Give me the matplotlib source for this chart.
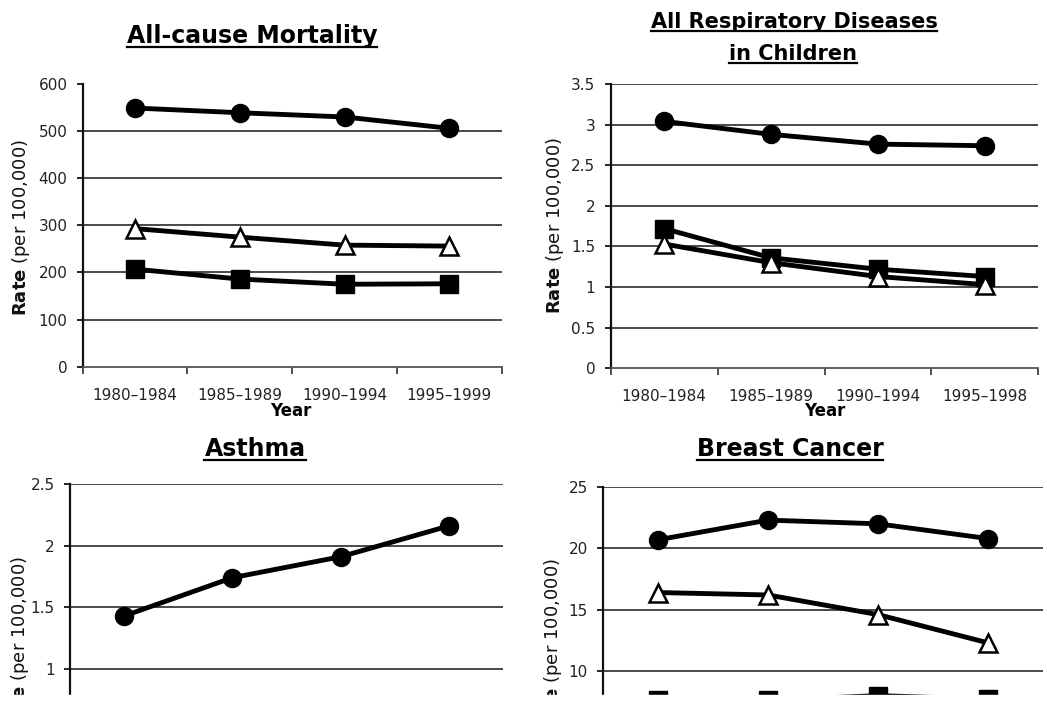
import matplotlib
matplotlib.use('Agg')
import matplotlib.pyplot as plt
import numpy as np
from matplotlib.lines import Line2D
from matplotlib.patches import Rectangle

# periods on the x axis
periods = ['1980–1984', '1985–1989', '1990–1994', '1995–1999']
periods_resp = ['1980–1984', '1985–1989', '1990–1994', '1995–1998']

# All-cause mortality
mort_circle = [549, 539, 530, 506]
mort_square = [207, 186, 175, 176]
mort_triangle = [293, 275, 258, 256]

# All respiratory diseases in children
resp_circle = [3.04, 2.88, 2.76, 2.74]
resp_square = [1.72, 1.36, 1.22, 1.13]
resp_triangle = [1.53, 1.30, 1.13, 1.03]

# Asthma
asthma_circle = [1.43, 1.74, 1.91, 2.16]

# Breast cancer
bc_circle = [20.7, 22.3, 22.0, 20.8]
bc_square = [7.6, 7.6, 8.0, 7.7]
bc_triangle = [16.4, 16.2, 14.6, 12.3]

W, H = 1047, 708
fig = plt.figure(figsize=(W / 100, H / 100), dpi=100)


def px(x, y):
    return x / W, 1 - y / H


def axes_px(left, top, right, bottom):
    return fig.add_axes([left / W, 1 - bottom / H, (right - left) / W, (bottom - top) / H])


def style(ax, ymax, ystep, labels, top_grid=True, show_xlabels=True, ylabel_min=0):
    ax.set_xlim(0, len(labels))
    ax.set_ylim(0, ymax)
    yt = np.arange(0, ymax + ystep / 2, ystep)
    ax.set_yticks(yt)
    # the lower panels are cut off, so their low tick values are not shown
    ax.set_yticklabels([f'{v:g}' if v >= ylabel_min else '' for v in yt])
    for v in yt[1:]:
        if v >= ymax - 1e-9 and not top_grid:
            continue
        ax.axhline(v, color='#3a3a3a', lw=1.3, zorder=1)
    ax.spines['top'].set_visible(False)
    ax.spines['right'].set_visible(False)
    ax.spines['left'].set_color('#111111')
    ax.spines['left'].set_linewidth(1.6)
    ax.spines['bottom'].set_color('#555555')
    ax.spines['bottom'].set_linewidth(1.3)
    ax.set_xticks(range(len(labels) + 1))
    ax.set_xticklabels([])
    ax.tick_params(axis='x', which='major', length=5, width=1.2, color='#333333')
    ax.set_xticks(np.arange(len(labels)) + 0.5, minor=True)
    ax.set_xticklabels(labels if show_xlabels else [''] * len(labels), minor=True)
    ax.tick_params(axis='x', which='minor', length=0, pad=15, labelsize=11, labelcolor='#222222')
    ax.tick_params(axis='y', length=4, width=1.2, pad=7, labelsize=11, labelcolor='#222222')
    ax.set_facecolor('none')


def series(ax, vals, kind):
    x = np.arange(len(vals)) + 0.5
    if kind == 'circle':
        ax.plot(x, vals, color='black', lw=3.5, marker='o', ms=13, zorder=3)
    elif kind == 'square':
        ax.plot(x, vals, color='black', lw=3.5, marker='s', ms=13, zorder=4)
    else:
        ax.plot(x, vals, color='black', lw=3.5, marker='^', ms=13, mfc='white',
                mec='black', mew=1.8, zorder=5)


ax1 = axes_px(82.7, 84, 501.7, 366.7)
ax2 = axes_px(610.7, 84, 1038.3, 368.3)
ax3 = axes_px(70, 484, 503, 484 + 2.5 * 123.3)
ax4 = axes_px(603, 487, 1043, 487 + 25 * 12.27)

style(ax1, 600, 100, periods, top_grid=False)
series(ax1, mort_circle, 'circle')
series(ax1, mort_square, 'square')
series(ax1, mort_triangle, 'triangle')

style(ax2, 3.5, 0.5, periods_resp)
series(ax2, resp_circle, 'circle')
series(ax2, resp_square, 'square')
series(ax2, resp_triangle, 'triangle')

style(ax3, 2.5, 0.5, periods, show_xlabels=False, ylabel_min=1)
series(ax3, asthma_circle, 'circle')

style(ax4, 25, 5, periods, show_xlabels=False, ylabel_min=10)
series(ax4, bc_circle, 'circle')
series(ax4, bc_square, 'square')
series(ax4, bc_triangle, 'triangle')

# titles (underlined by hand below)
titles = [
    fig.text(*px(252, 43), 'All-cause Mortality', fontsize=17),
    fig.text(*px(794, 28), 'All Respiratory Diseases', fontsize=15),
    fig.text(*px(793, 60), 'in Children', fontsize=15),
    fig.text(*px(255, 456), 'Asthma', fontsize=17),
    fig.text(*px(790, 456), 'Breast Cancer', fontsize=17),
]
for t in titles:
    t.set_ha('center')
    t.set_va('baseline')
    t.set_fontweight('bold')

ylab = r'$\mathbf{Rate}$ (per 100,000)'
for x, y in [(21, 227), (555, 225), (20, 644), (553, 646)]:
    fig.text(*px(x, y), ylab, rotation=90, ha='center', va='center', fontsize=13, color='#111111')

for x in [291, 825]:
    fig.text(*px(x, 411), 'Year', ha='center', va='center', fontsize=12, fontweight='bold')

fig.canvas.draw()
inv = fig.transFigure.inverted()
for t in titles:
    bb = t.get_window_extent()
    (x0, y0), (x1, _) = inv.transform([(bb.x0, bb.y0 + 1.5), (bb.x1, bb.y0 + 1.5)])
    fig.add_artist(Line2D([x0, x1], [y0, y0], transform=fig.transFigure, color='black', lw=1.6))

# the original picture is cut off near the bottom
fig.add_artist(Rectangle((0, 0), 1, 13 / H, transform=fig.transFigure, color='white', zorder=10))

fig.savefig('out.png', dpi=100)
